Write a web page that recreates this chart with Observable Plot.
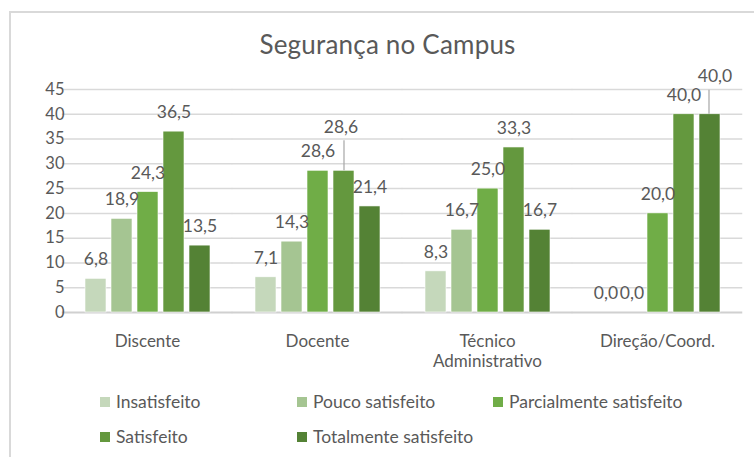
<!DOCTYPE html>
<html>
<head>
<meta charset="utf-8">
<script src="https://cdn.jsdelivr.net/npm/d3@7"></script>
<script src="https://cdn.jsdelivr.net/npm/@observablehq/plot@0.6"></script>
<style>
  html, body { margin: 0; padding: 0; background: #fff; }
  #wrap { position: relative; width: 754px; height: 457px; overflow: hidden; font-family: Lato, "Open Sans", sans-serif; color: #595959; }
  #frame { position: absolute; left: 9px; top: 11px; right: -10px; bottom: -10px; border-top: 2px solid #d9d9d9; border-left: 2px solid #d9d9d9; }
  #title { position: absolute; left: 0; width: 775px; top: 28px; text-align: center; font-size: 26px; letter-spacing: 0.2px; line-height: 32px; }
  #chart { position: absolute; left: 0; top: 0; }
  .lg { position: absolute; display: flex; align-items: center; font-size: 17.5px; line-height: 20px; white-space: nowrap; }
  .lg span.sw { display: inline-block; width: 10px; height: 10px; margin-right: 6px; }
</style>
</head>
<body>
<div id="wrap">
  <div id="frame"></div>
  <div id="chart"></div>
  <div id="title">Segurança no Campus</div>
  <div id="legend"></div>
</div>
<script>
const categories = ["Discente", "Docente", "Técnico\nAdministrativo", "Direção/Coord."];
const series = ["Insatisfeito", "Pouco satisfeito", "Parcialmente satisfeito", "Satisfeito", "Totalmente satisfeito"];
const colors = ["#c5d8bb", "#a5c592", "#70ad47", "#64983e", "#548235"];
const values = {
  "Insatisfeito":            [6.8, 7.1, 8.3, 0.0],
  "Pouco satisfeito":        [18.9, 14.3, 16.7, 0.0],
  "Parcialmente satisfeito": [24.3, 28.6, 25.0, 20.0],
  "Satisfeito":              [36.5, 28.6, 33.3, 40.0],
  "Totalmente satisfeito":   [13.5, 21.4, 16.7, 40.0]
};
const yTicks = [0, 5, 10, 15, 20, 25, 30, 35, 40, 45];
// labels drawn with a leader line in the original
const leaderDocente = ["Docente", "Satisfeito"];
const leaderDirecao = ["Direção/Coord.", "Totalmente satisfeito"];

const data = [];
categories.forEach((c, ci) => series.forEach(s => data.push({cat: c, series: s, value: values[s][ci]})));
const fmt = d => d3.format(".1f")(d.value).replace(".", ",");
const is = (d, k) => d.cat === k[0] && d.series === k[1];
const normal = data.filter(d => !is(d, leaderDocente) && !is(d, leaderDirecao));
const docL = data.filter(d => is(d, leaderDocente));
const dirL = data.filter(d => is(d, leaderDirecao));

const halfGap = 20.25;
const labelFont = {fontSize: 17.5, fill: "#595959", fontFamily: "Lato, sans-serif"};

const chart = Plot.plot({
  width: 754,
  height: 372,
  marginTop: 89,
  marginBottom: 60,
  marginLeft: 61,
  marginRight: 11,
  style: {background: "transparent", fontFamily: "Lato, sans-serif", color: "#595959", overflow: "visible"},
  fx: {domain: categories, paddingInner: 0.2375, paddingOuter: 0.11875, label: null},
  x: {domain: series, paddingInner: 5 / 26, paddingOuter: 2.5 / 26, axis: null},
  y: {domain: [0, 45], label: null},
  color: {domain: series, range: colors},
  marks: [
    Plot.ruleY(yTicks.slice(1), {y: d => d, stroke: "#d9d9d9", strokeWidth: 1.5, insetLeft: -halfGap, insetRight: -halfGap}),
    Plot.ruleY([0], {stroke: "#d0d0d0", strokeWidth: 2, insetLeft: -halfGap, insetRight: -halfGap}),
    Plot.barY(data, {fx: "cat", x: "series", y: "value", fill: "series", stroke: "white", strokeWidth: 0.6}),
    Plot.text(normal, {fx: "cat", x: "series", y: "value", text: fmt, dy: -19, ...labelFont}),
    Plot.ruleX(docL, {fx: "cat", x: "series", y1: "value", y2: "value", insetTop: -30, stroke: "#a6a6a6", strokeWidth: 1.2}),
    Plot.text(docL, {fx: "cat", x: "series", y: "value", text: fmt, dy: -43, dx: -3, ...labelFont}),
    Plot.ruleX(dirL, {fx: "cat", x: "series", y1: "value", y2: "value", insetTop: -24, dx: -1, stroke: "#a6a6a6", strokeWidth: 1.2}),
    Plot.text(dirL, {fx: "cat", x: "series", y: "value", text: fmt, dy: -38, dx: 5, ...labelFont}),
    Plot.axisY({ticks: yTicks, tickSize: 0, tickPadding: 18, fontSize: 16.5, fill: "#595959", tickFormat: d => String(d)}),
    Plot.axisFx({anchor: "bottom", tickSize: 0, tickPadding: 20, fontSize: 17, lineHeight: 1.2, fill: "#595959", label: null})
  ]
});
document.getElementById("chart").appendChild(chart);

const legendPos = [[100, 392], [297, 392], [493, 392], [100, 427], [297, 427]];
const lg = document.getElementById("legend");
series.forEach((s, i) => {
  const el = document.createElement("div");
  el.className = "lg";
  el.style.left = legendPos[i][0] + "px";
  el.style.top = legendPos[i][1] + "px";
  el.innerHTML = `<span class="sw" style="background:${colors[i]}"></span><span>${s}</span>`;
  lg.appendChild(el);
});
</script>
</body>
</html>
